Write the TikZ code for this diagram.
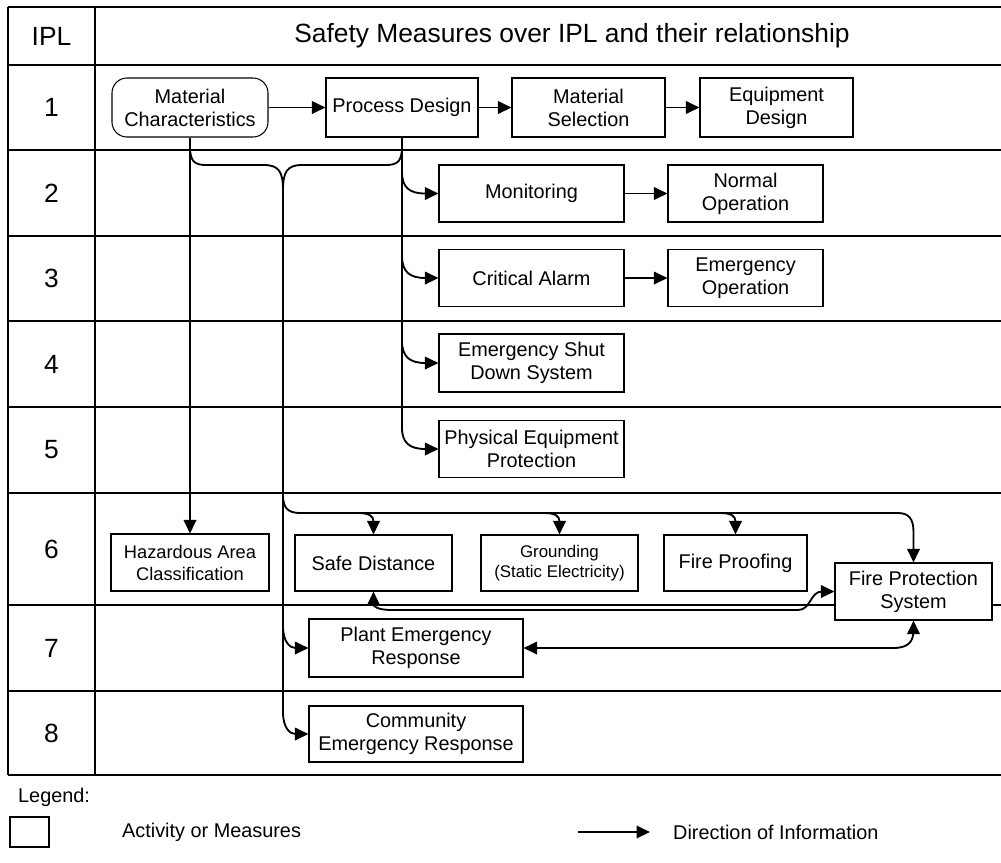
\documentclass[tikz,border=0pt]{standalone}
\usepackage{fontspec}
\setmainfont{Liberation Sans}
\usetikzlibrary{arrows.meta}
\begin{document}
\begin{tikzpicture}[x=0.2mm,y=-0.2mm,
  grid/.style={line width=0.6pt},
  box/.style={draw, line width=0.6pt, fill=white, align=center, inner sep=0pt,
    font=\fontsize{11.3}{13}\selectfont},
  sz/.style 2 args={minimum width=#1*0.2mm, minimum height=#2*0.2mm},
  tip/.tip={Triangle[length=2.7mm,width=2.5mm]},
  flow/.style={line width=1.05pt, -tip},
  link/.style={line width=1.05pt},
  twoway/.style={line width=1.05pt, tip-tip},
  hdr/.style={font=\fontsize{15}{18}\selectfont},
  legtext/.style={anchor=west, font=\fontsize{11.3}{13}\selectfont}
]
\useasboundingbox (0,0) rectangle (1001,862);

% table grid
\foreach \yy in {7,65,150,236,321,407,493,605,691,775}
  \draw[grid] (8,\yy) -- (1001,\yy);
\draw[grid] (8,7) -- (8,775);
\draw[grid] (95,7) -- (95,775);

% header and row numbers
\node[hdr] (hipl) at (51.5,36) {IPL};
\node[hdr] (htitle) at (572,36) {Safety Measures over IPL and their relationship};
\node[hdr] (r1) at (51.5,107.5) {1};
\node[hdr] (r2) at (51.5,193) {2};
\node[hdr] (r3) at (51.5,278.5) {3};
\node[hdr] (r4) at (51.5,364) {4};
\node[hdr] (r5) at (51.5,450) {5};
\node[hdr] (r6) at (51.5,549) {6};
\node[hdr] (r7) at (51.5,648) {7};
\node[hdr] (r8) at (51.5,733) {8};

% measures
\node[box, sz={156}{59}, rounded corners=3mm] (mc) at (190,107.5) {Material\\Characteristics};
\node[box, sz={152}{59}] (pd) at (402,107.5) {Process Design};
\node[box, sz={153}{59}] (ms) at (588.5,107.5) {Material\\Selection};
\node[box, sz={153}{59}] (ed) at (776.5,107.5) {Equipment\\Design};

\node[box, sz={185}{57}] (mon) at (531.5,193.5) {Monitoring};
\node[box, sz={155}{57}] (no) at (745.5,193.5) {Normal\\Operation};
\node[box, sz={185}{57}] (ca) at (531.5,278) {Critical Alarm};
\node[box, sz={155}{57}] (eo) at (745.5,278) {Emergency\\Operation};
\node[box, sz={185}{58}] (esd) at (531.5,363) {Emergency Shut\\Down System};
\node[box, sz={185}{57}] (pep) at (531.5,449) {Physical Equipment\\Protection};

\node[box, sz={158}{57}, font=\fontsize{10.4}{12.5}\selectfont] (hac) at (190,562.5) {Hazardous Area\\Classification};
\node[box, sz={157}{56}] (sd) at (373.5,563) {Safe Distance};
\node[box, sz={157}{56}, font=\fontsize{9.6}{11.5}\selectfont] (gr) at (559.5,563) {Grounding\\(Static Electricity)};
\node[box, sz={143}{56}] (fp) at (735.5,563) {Fire Proofing};
\node[box, sz={157}{57}] (fps) at (913.5,591.5) {Fire Protection\\System};

\node[box, sz={214}{58}] (per) at (416,648) {Plant Emergency\\Response};
\node[box, sz={214}{56}] (cer) at (416,734) {Community\\Emergency Response};

% row 1 chain
\draw[flow] (mc.east) -- (pd.west);
\draw[flow] (pd.east) -- (ms.west);
\draw[flow] (ms.east) -- (ed.west);
\draw[flow] (mon.east) -- (no.west);
\draw[flow] (ca.east) -- (eo.west);

% material characteristics to area classification
\draw[flow] (mc.south) -- (hac.north);

% process design trunk
\draw[flow] (pd.south) -- (402,428) .. controls (402,443) and (410,449) .. (pep.west);
\draw[flow] (402,172) .. controls (402,188) and (410,193.5) .. (mon.west);
\draw[flow] (402,256) .. controls (402,272) and (410,278) .. (ca.west);
\draw[flow] (402,341) .. controls (402,357) and (410,363) .. (esd.west);

% merging of both sources into the common trunk
\coordinate (j) at (283,190);
\draw[link] (190,146) .. controls (190,161) and (194,165) .. (206,165) -- (264,165)
  .. controls (279,165) and (283,172) .. (j);
\draw[link] (402,146) .. controls (402,161) and (398,165) .. (386,165) -- (302,165)
  .. controls (287,165) and (283,172) .. (j);
\draw[flow] (j) -- (283,712) .. controls (283,728) and (290,734) .. (cer.west);
\draw[flow] (283,626) .. controls (283,642) and (290,648) .. (per.west);

% row 6 distribution line
\draw[flow] (283,495) .. controls (283,508) and (288,513) .. (300,513) -- (898,513)
  .. controls (909,513) and (913.5,519) .. (913.5,532) -- (fps.north);
\draw[flow] (358,513) .. controls (369,513) and (373.5,516) .. (sd.north);
\draw[flow] (544,513) .. controls (555,513) and (559.5,516) .. (gr.north);
\draw[flow] (720,513) .. controls (731,513) and (735.5,516) .. (fp.north);

% fire protection system links
\draw[twoway] (sd.south) .. controls (373.5,606) and (377,610) .. (392,610) -- (798,610)
  .. controls (811,610) and (810,591.5) .. (822,591.5) -- (fps.west);
\draw[twoway] (per.east) -- (893,648) .. controls (908,648) and (913.5,642) .. (913.5,630) -- (fps.south);

% legend
\node[legtext] (leg) at (12,797) {Legend:};
\node[box, sz={39}{30}] (legbox) at (29.5,832) {};
\node[legtext] (legact) at (116,832) {Activity or Measures};
\coordinate (la) at (578,832);
\coordinate (lb) at (650,832);
\draw[flow] (la) -- (lb);
\node[legtext] (legdir) at (667,832) {Direction of Information};
\end{tikzpicture}
\end{document}
